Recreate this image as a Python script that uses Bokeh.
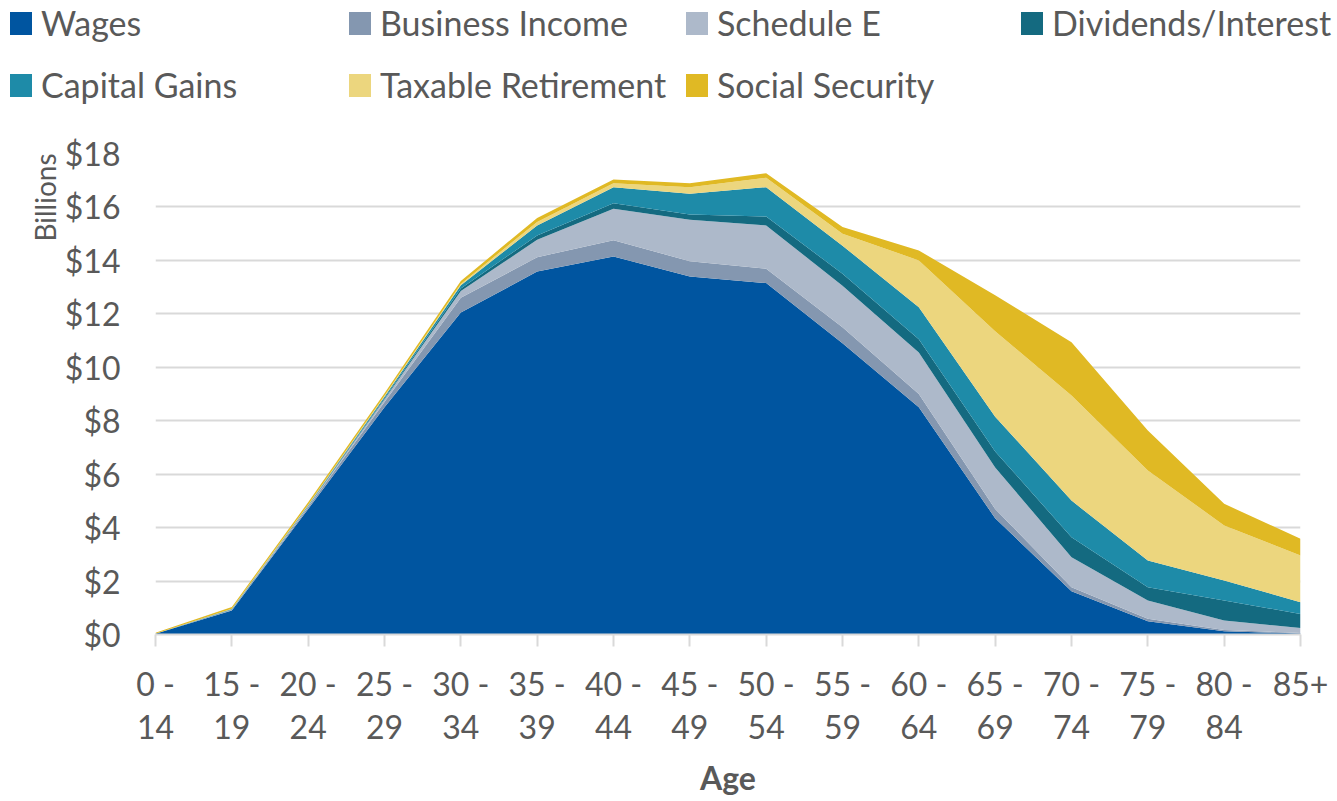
from bokeh.plotting import figure
from bokeh.layouts import column
from bokeh.models import (ColumnDataSource, Range1d, FixedTicker, Title, NumeralTickFormatter, Div)
from bokeh.embed import file_html
from bokeh.resources import INLINE

# ---- data (billions of dollars) ----
ages = ["0 -\n14", "15 -\n19", "20 -\n24", "25 -\n29", "30 -\n34", "35 -\n39", "40 -\n44",
        "45 -\n49", "50 -\n54", "55 -\n59", "60 -\n64", "65 -\n69", "70 -\n74", "75 -\n79",
        "80 -\n84", "85+"]
wages       = [0.03, 0.90, 4.70, 8.50, 12.05, 13.58, 14.15, 13.40, 13.15, 10.90, 8.50, 4.35, 1.62, 0.50, 0.12, 0.04]
business    = [0.00, 0.02, 0.07, 0.20, 0.55, 0.54, 0.60, 0.57, 0.54, 0.60, 0.50, 0.35, 0.15, 0.09, 0.05, 0.02]
schedule_e  = [0.00, 0.01, 0.03, 0.10, 0.25, 0.65, 1.18, 1.55, 1.62, 1.55, 1.55, 1.55, 1.12, 0.68, 0.35, 0.18]
dividends   = [0.00, 0.01, 0.02, 0.04, 0.10, 0.16, 0.21, 0.20, 0.33, 0.45, 0.50, 0.60, 0.75, 0.50, 0.75, 0.53]
cap_gains   = [0.00, 0.01, 0.02, 0.06, 0.12, 0.38, 0.60, 0.77, 1.10, 1.05, 1.20, 1.30, 1.37, 1.00, 0.75, 0.44]
taxable_ret = [0.00, 0.01, 0.02, 0.03, 0.05, 0.13, 0.15, 0.25, 0.35, 0.45, 1.75, 3.20, 3.93, 3.37, 2.06, 1.75]
social_sec  = [0.04, 0.07, 0.09, 0.10, 0.11, 0.15, 0.14, 0.15, 0.17, 0.25, 0.37, 1.35, 2.00, 1.49, 0.81, 0.62]

series_names = ["Wages", "Business Income", "Schedule E", "Dividends/Interest",
                "Capital Gains", "Taxable Retirement", "Social Security"]
series_vals = [wages, business, schedule_e, dividends, cap_gains, taxable_ret, social_sec]
colors = ["#0055A0", "#8497B0", "#ADB9CA", "#146A80", "#1E8BA8", "#ECD67E", "#E0B924"]
y_ticks = [0, 2, 4, 6, 8, 10, 12, 14, 16, 18]

FONT = "Lato"
GREY = "#595959"
W = 1337

# ---------------- legend strip (HTML, real text) ----------------
LEG_H = 120
col_left = [10, 349, 686, 1021]   # layout: left edge of each legend column
row_mid = [23, 85]                # layout: vertical centre of each legend row
parts = []
for i, (name, c) in enumerate(zip(series_names, colors)):
    r, k = divmod(i, 4)
    x0, ym = col_left[k], row_mid[r]
    parts.append(f'<div style="position:absolute;left:{x0}px;top:{ym - 11}px;'
                 f'width:22px;height:23px;background:{c};"></div>')
    parts.append(f'<div style="position:absolute;left:{x0 + 31}px;top:{ym}px;'
                 f'transform:translateY(-50%);white-space:nowrap;line-height:1;">{name}</div>')
legend_html = (f'<div style="position:relative;width:{W}px;height:{LEG_H}px;margin:0;padding:0;'
               f'font-family:{FONT};font-size:34px;color:{GREY};">' + "".join(parts) + "</div>")
legend_div = Div(text=legend_html, width=W, height=LEG_H, margin=0,
                 styles={"margin": "0", "padding": "0"})

# ---------------- main stacked area chart ----------------
data = {"x": list(range(len(ages)))}
for n, v in zip(series_names, series_vals):
    data[n] = v
source = ColumnDataSource(data)

H = 800 - LEG_H
FRAME_L, FRAME_R, FRAME_T, FRAME_B = 155, 1300, 153 - LEG_H, 634 - LEG_H
p = figure(width=W, height=H, output_backend="svg", toolbar_location=None,
           x_range=Range1d(0, len(ages) - 1), y_range=Range1d(0, 18),
           min_border_left=FRAME_L, min_border_right=W - FRAME_R,
           min_border_top=FRAME_T, min_border_bottom=H - FRAME_B)
p.outline_line_color = None
p.background_fill_color = "white"

p.varea_stack(stackers=series_names, x="x", color=colors, source=source)

p.xaxis.ticker = FixedTicker(ticks=list(range(len(ages))))
p.xaxis.major_label_overrides = {i: lab for i, lab in enumerate(ages)}
p.xaxis.major_label_text_font = FONT
p.xaxis.major_label_text_font_size = "32px"
p.xaxis.major_label_text_color = GREY
p.xaxis.major_label_text_line_height = 1.12
p.xaxis.major_label_standoff = 17
p.xaxis.major_tick_out = 12
p.xaxis.major_tick_in = 0
p.xaxis.major_tick_line_color = "#D9D9D9"
p.xaxis.major_tick_line_width = 2
p.xaxis.minor_tick_line_color = None
p.xaxis.axis_line_color = "#D9D9D9"
p.xaxis.axis_line_width = 2
p.xaxis.axis_label = "Age"
p.xaxis.axis_label_text_font = FONT
p.xaxis.axis_label_text_font_size = "32px"
p.xaxis.axis_label_text_font_style = "bold"
p.xaxis.axis_label_text_color = GREY
p.xaxis.axis_label_standoff = 9

p.yaxis.ticker = FixedTicker(ticks=y_ticks)
p.yaxis.formatter = NumeralTickFormatter(format="$0")
p.yaxis.major_label_text_font = FONT
p.yaxis.major_label_text_font_size = "32px"
p.yaxis.major_label_text_color = GREY
p.yaxis.major_label_standoff = 35
p.yaxis.major_tick_out = 0
p.yaxis.major_tick_in = 0
p.yaxis.minor_tick_line_color = None
p.yaxis.axis_line_color = None

p.xgrid.grid_line_color = None
p.ygrid.grid_line_color = "#D9D9D9"
p.ygrid.grid_line_width = 2

# "Billions" title at the top of the value axis
p.add_layout(Title(text="Billions", align="right", text_font=FONT, text_font_size="28px",
                   text_font_style="normal", text_color=GREY, standoff=0), "left")

layout = column(legend_div, p, spacing=0)
open("out.html", "w").write(file_html(layout, INLINE))
